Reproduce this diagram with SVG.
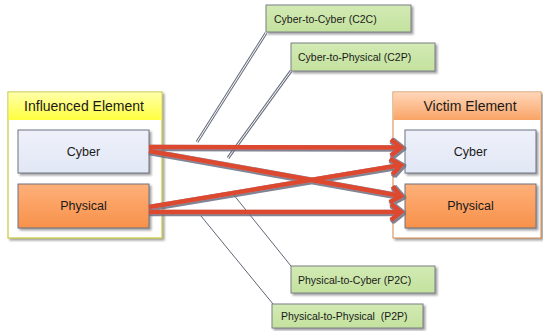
<svg xmlns="http://www.w3.org/2000/svg" width="543" height="331" viewBox="0 0 543 331">
<defs>
  <linearGradient id="gYellow" x1="0" y1="0" x2="0" y2="1">
    <stop offset="0" stop-color="#FFFFA8"/>
    <stop offset="1" stop-color="#FFFF40"/>
  </linearGradient>
  <linearGradient id="gOrangeHead" x1="0" y1="0" x2="0" y2="1">
    <stop offset="0" stop-color="#FFD6B8"/>
    <stop offset="1" stop-color="#F9A466"/>
  </linearGradient>
  <linearGradient id="gOrange" x1="0" y1="0" x2="0" y2="1">
    <stop offset="0" stop-color="#FFB07A"/>
    <stop offset="1" stop-color="#F7914A"/>
  </linearGradient>
  <linearGradient id="gBlue" x1="0" y1="0" x2="0" y2="1">
    <stop offset="0" stop-color="#EEF1FA"/>
    <stop offset="1" stop-color="#E2E7F5"/>
  </linearGradient>
  <linearGradient id="gGreen" x1="0" y1="0" x2="0" y2="1">
    <stop offset="0" stop-color="#D2EAB4"/>
    <stop offset="1" stop-color="#C4E29E"/>
  </linearGradient>
  <filter id="shadow" x="-10%" y="-10%" width="130%" height="140%">
    <feDropShadow dx="2" dy="2" stdDeviation="1" flood-color="#555" flood-opacity="0.55"/>
  </filter>
  <filter id="arrowOutline" x="-5%" y="-20%" width="110%" height="140%">
    <feMorphology in="SourceAlpha" operator="dilate" radius="1" result="d"/>
    <feOffset in="d" dx="0.5" dy="1" result="o"/>
    <feFlood flood-color="#6B7080" flood-opacity="0.85"/>
    <feComposite in2="o" operator="in" result="s"/>
    <feMerge><feMergeNode in="s"/><feMergeNode in="SourceGraphic"/></feMerge>
  </filter>
  <marker id="chev" markerUnits="userSpaceOnUse" markerWidth="30" markerHeight="30" refX="0" refY="0" orient="auto" overflow="visible" viewBox="-15 -15 30 30">
    <path d="M-10,-8 L0,0 L-10,8" fill="none" stroke="#DD4A2E" stroke-width="4.5" stroke-linejoin="miter"/>
  </marker>
  <style>
    .lbl { font-family: "Liberation Sans", Arial, sans-serif; fill: #1A1A1A; }
    .head { font-size: 14px; text-anchor: middle; }
    .box { font-size: 12.5px; text-anchor: middle; }
    .call { font-size: 10.5px; }
    .inner { stroke: #6D7380; stroke-width: 1; }
    .callbox { fill: url(#gGreen); stroke: #7A7F88; stroke-width: 1; filter: url(#shadow); }
    .arrow { fill: none; stroke: #DD4A2E; stroke-width: 4.5; marker-end: url(#chev); }
    .dblOuter { fill: none; stroke: #6D7380; stroke-width: 3; }
    .dblInner { fill: none; stroke: #FFFFFF; stroke-width: 1; }
    .single { fill: none; stroke: #5F6572; stroke-width: 1; }
  </style>
</defs>

<rect width="543" height="331" fill="#FFFFFF"/>

<g id="influenced-element">
  <rect x="8" y="92" width="154" height="146" fill="#FFFFFF" stroke="#C9C93A" stroke-width="1.2" filter="url(#shadow)"/>
  <rect x="8.6" y="92.6" width="152.8" height="27.4" fill="url(#gYellow)"/>
  <text class="lbl head" x="84" y="111">Influenced Element</text>
</g>

<g id="victim-element">
  <rect x="393" y="92" width="148" height="146" fill="#FFFFFF" stroke="#D08848" stroke-width="1" filter="url(#shadow)"/>
  <rect x="393.5" y="92.5" width="147" height="27.5" fill="url(#gOrangeHead)"/>
  <text class="lbl head" x="470" y="111">Victim Element</text>
</g>

<g id="inf-cyber">
  <rect x="18" y="130" width="131" height="43" fill="url(#gBlue)" class="inner" filter="url(#shadow)"/>
  <text class="lbl box" x="83.5" y="156">Cyber</text>
</g>
<g id="inf-physical">
  <rect x="18" y="184" width="131" height="44" fill="url(#gOrange)" class="inner" filter="url(#shadow)"/>
  <text class="lbl box" x="83.5" y="210">Physical</text>
</g>
<g id="vic-cyber">
  <rect x="405" y="130" width="131" height="43" fill="url(#gBlue)" class="inner" filter="url(#shadow)"/>
  <text class="lbl box" x="470.5" y="156">Cyber</text>
</g>
<g id="vic-physical">
  <rect x="405" y="184" width="131" height="44" fill="url(#gOrange)" class="inner" filter="url(#shadow)"/>
  <text class="lbl box" x="470.5" y="210">Physical</text>
</g>

<g id="connectors">
  <g id="callout-lines">
    <path class="dblOuter" d="M266,33 L197,142"/>
    <path class="dblInner" d="M266,33 L197,142"/>
    <path class="dblOuter" d="M291,71 L228,158"/>
    <path class="dblInner" d="M291,71 L228,158"/>
    <path class="single" d="M233,194 L291,266"/>
    <path class="single" d="M201,216 L273,304"/>
  </g>
  <g id="arrows" filter="url(#arrowOutline)">
    <path class="arrow" d="M149,147 L401,147.5"/>
    <path class="arrow" d="M149,151 L401,196"/>
    <path class="arrow" d="M149,207 L401,165"/>
    <path class="arrow" d="M149,212 L401,212"/>
  </g>
</g>

<g id="c2c">
  <rect class="callbox" x="266" y="5" width="145" height="27"/>
  <text class="lbl call" x="274" y="23">Cyber-to-Cyber (C2C)</text>
</g>
<g id="c2p">
  <rect class="callbox" x="291" y="43" width="144" height="28"/>
  <text class="lbl call" x="298" y="61">Cyber-to-Physical (C2P)</text>
</g>
<g id="p2c">
  <rect class="callbox" x="291" y="266" width="144" height="27"/>
  <text class="lbl call" x="298" y="284">Physical-to-Cyber (P2C)</text>
</g>
<g id="p2p">
  <rect class="callbox" x="272" y="304" width="151" height="24"/>
  <text class="lbl call" x="281" y="320" xml:space="preserve">Physical-to-Physical  (P2P)</text>
</g>
</svg>
